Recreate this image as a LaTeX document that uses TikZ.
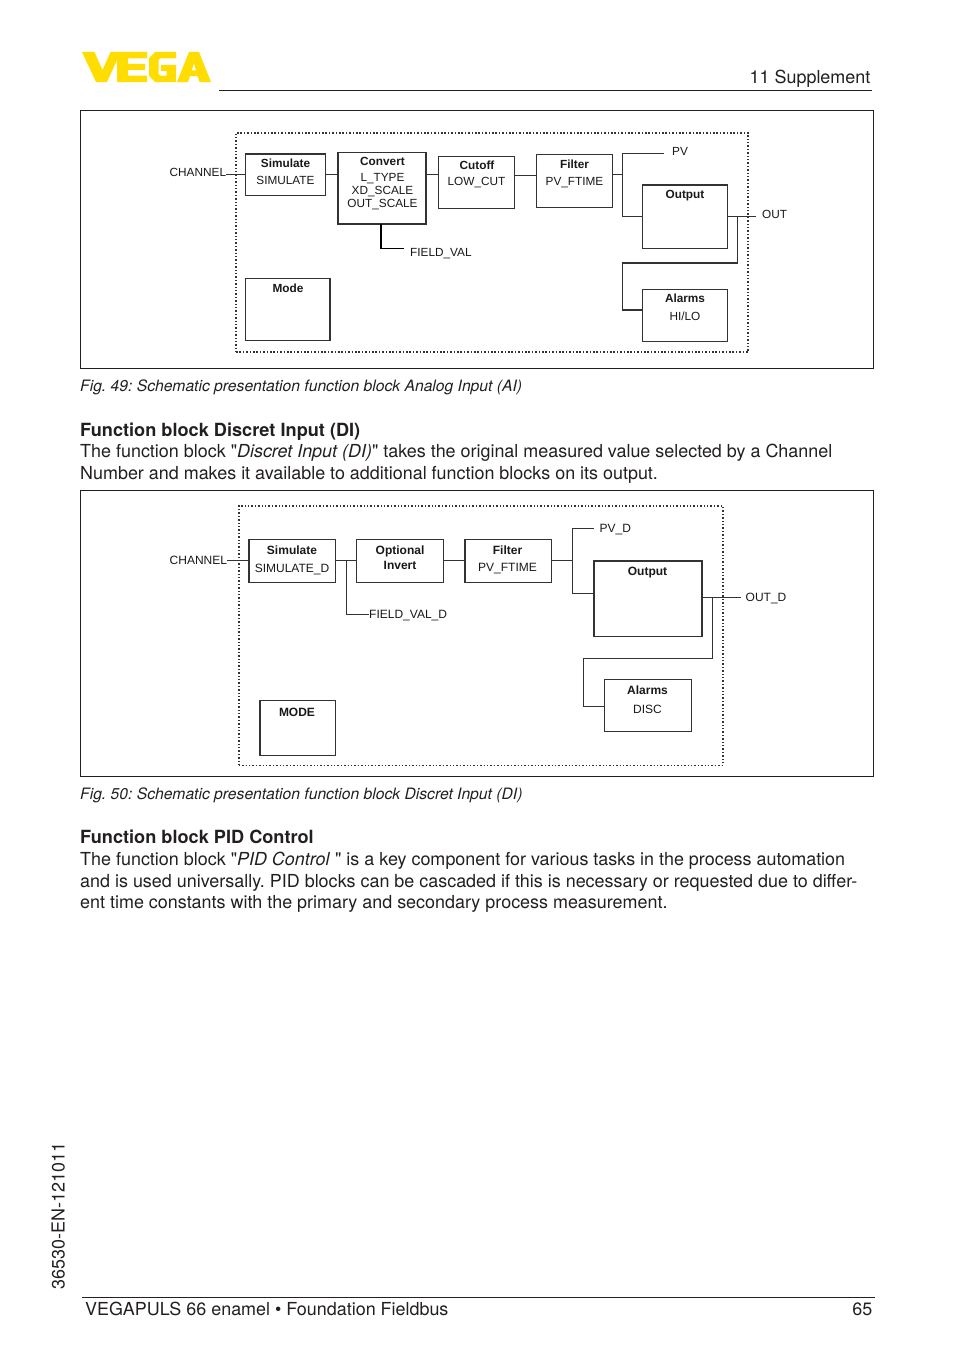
\documentclass[tikz,border=0pt]{standalone}
\usepackage{fontspec}
\setmainfont{TeX Gyre Heros}[Ligatures=TeXOff]
\newfontfamily\lab{Liberation Sans}
\definecolor{ink}{HTML}{231F20}
\definecolor{wire}{HTML}{333333}
\definecolor{vegay}{HTML}{FFDD00}
\frenchspacing
\def\lbfs{12}
\tikzset{
  pagetext/.style={anchor=base west,inner sep=0pt,text=ink,font=\fontsize{17.93}{22}\selectfont},
  pageright/.style={pagetext,anchor=base east},
  captext/.style={pagetext,font=\fontsize{15.67}{20}\selectfont\itshape},
  headtext/.style={pagetext,font=\fontsize{18.15}{22}\selectfont\bfseries},
  frm/.style={draw=ink,line width=1pt,inner sep=0pt,outer sep=0pt,anchor=north west},
  rulel/.style={draw=ink,line width=1pt},
  dots/.style={draw=black!80,line width=1.6pt,dash pattern=on 1.5pt off 1.9pt,inner sep=0pt,outer sep=0pt,anchor=north west},
  blk/.style={draw=wire,line width=1.2pt,inner sep=0pt,outer sep=0pt,anchor=north west},
  wr/.style={draw=wire,line width=1pt},
  thickwr/.style={draw=black,line width=1.5pt},
  lb/.style={inner sep=0pt,text=black!90,font=\lab\fontsize{\lbfs}{14}\selectfont},
  lbb/.style={lb,font=\lab\fontsize{\lbfs}{14}\selectfont\bfseries},
  lbw/.style={lb,anchor=base west},
}
\newcommand{\bx}[5]{\node[blk,minimum width=#4-#2,minimum height=#5-#3] (#1) at (#2,#3) {};}
\begin{document}
\begin{tikzpicture}[x=1pt,y=-1pt]
\useasboundingbox (0,0) rectangle (954,1354);
\fill[white] (0,0) rectangle (954,1354);
% logo
\fill[vegay] (82,52) -- (94.5,52) -- (102.5,70) -- (110.5,52) -- (147,52) -- (147,58.5) -- (128,58.5) -- (128,64) -- (145,64) -- (145,70) -- (128,70) -- (128,75.5) -- (147,75.5) -- (147,82) -- (117,82) -- (117,60) -- (107,82) -- (96,82) -- cycle;
\fill[vegay] (155,52) -- (176,52) -- (176,58.5) -- (160,58.5) -- (158.5,60) -- (158.5,74) -- (160,75.5) -- (166.5,75.5) -- (166.5,71) -- (161,71) -- (161,65) -- (176,65) -- (176,82) -- (155,82) -- (149,76) -- (149,58) -- cycle;
\fill[vegay,even odd rule] (177,82) -- (189,52) -- (199,52) -- (211,82) -- (199.5,82) -- (197.5,76) -- (190,76) -- (188,82) -- cycle (191.5,70.5) -- (196,70.5) -- (194,63.5) -- cycle;
% header
\node[pageright] (hdr) at (870.5,83.5) {11 Supplement};
\coordinate (hl) at (219,90.5); \coordinate (hr) at (872,90.5);
\draw[rulel] (hl) -- (hr);
% frames
\node[frm,minimum width=793,minimum height=258] (f1) at (80.5,110.5) {};
\node[frm,minimum width=793,minimum height=286] (f2) at (80.5,490.5) {};
% ---- Figure 49
\begin{scope}
\def\lbfs{11.8}
\node[dots,minimum width=512,minimum height=219.5] (d1) at (236,132.7) {};
\bx{asim}{245.5}{154}{325.7}{195.3}
\bx{acon}{338}{152.3}{426}{224}
\bx{acut}{438.7}{156.3}{514.7}{208.7}
\bx{afil}{536.3}{154.7}{612.7}{207.7}
\bx{aout}{642.7}{185}{727.3}{248.3}
\bx{aala}{642.7}{289.3}{727.3}{341.7}
\bx{amod}{245.5}{278.3}{330}{340.7}
\node[lbb] (a1) at (285.5,163) {Simulate};
\node[lb] (a2) at (285.5,180.5) {SIMULATE};
\node[lbb] (a3) at (382.5,161) {Convert};
\node[lb] (a4) at (382.5,178.5) {L\_TYPE};
\node[lb] (a5) at (382.5,191.5) {XD\_SCALE};
\node[lb] (a6) at (382.5,205) {OUT\_SCALE};
\node[lbb] (a7) at (477,165) {Cutoff};
\node[lb] (a8) at (476.5,183) {LOW\_CUT};
\node[lbb] (a9) at (574.5,164) {Filter};
\node[lb] (a10) at (574.5,182.5) {PV\_FTIME};
\node[lbb] (a11) at (685,195.5) {Output};
\node[lbb] (a12) at (685,298.5) {Alarms};
\node[lb] (a13) at (685,316) {HI/LO};
\node[lbb] (a14) at (288,288) {Mode};
\node[lbw] (achan) at (169.5,176.5) {CHANNEL};
\node[lbw] (apv) at (672,155.5) {PV};
\node[lbw] (aoutl) at (762,218) {OUT};
\node[lbw] (afv) at (410,256) {FIELD\_VAL};
\end{scope}
\coordinate (aj1) at (622.3,174.5);
\coordinate (aj2) at (737.3,216);
\coordinate (apve) at (664.3,153.7);
\coordinate (aoe) at (755.7,216);
\coordinate (afvc) at (404,248.7);
\draw[wr] (achan.east |- 0,174.3) -- (asim.west |- 0,174.3);
\draw[wr] (asim.east |- 0,174.3) -- (acon.west |- 0,174.3);
\draw[wr] (acon.east |- 0,174.7) -- (acut.west |- 0,174.7);
\draw[wr] (acut.east |- 0,175) -- (afil.west |- 0,175);
\draw[wr] (afil.east |- aj1) -- (aj1);
\draw[wr] (apve) -- (aj1 |- apve) -- (aj1 |- 0,216.3) -- (aout.west |- 0,216.3);
\draw[wr] (aout.east |- aoe) -- (aoe);
\draw[wr,line width=1.3pt] (aj2) -- (aj2 |- 0,263) -- (aj1 |- 0,263) -- (aj1 |- 0,310) -- (aala.west |- 0,310);
\draw[thickwr] (381,224) -- (381,248.7) -- (afvc);
% ---- Figure 50
\node[dots,minimum width=484.3,minimum height=259.3] (d2) at (238.7,506) {};
\bx{dsim}{249}{539.3}{335.7}{582.3}
\bx{dopt}{356.7}{539.3}{443.7}{582.3}
\bx{dfil}{465}{539.3}{551.3}{582.3}
\bx{dout}{594}{561}{702}{636.3}
\bx{dala}{604.7}{679.3}{691.3}{731.7}
\bx{dmod}{260}{700.7}{335.7}{755.3}
\node[lbb] (b1) at (292,550.5) {Simulate};
\node[lb] (b2) at (292,569) {SIMULATE\_D};
\node[lbb] (b3) at (400,551) {Optional};
\node[lbb] (b4) at (400,565) {Invert};
\node[lbb] (b5) at (507.5,550.5) {Filter};
\node[lb] (b6) at (507.5,569) {PV\_FTIME};
\node[lbb] (b7) at (647.5,572.5) {Output};
\node[lbb] (b8) at (647.5,690.5) {Alarms};
\node[lb] (b9) at (647.5,709) {DISC};
\node[lbb] (b10) at (297,712) {MODE};
\node[lbw] (dchan) at (169.5,564) {CHANNEL};
\node[lbw] (dpv) at (599.5,532) {PV\_D};
\node[lbw] (doutl) at (745.5,601.5) {OUT\_D};
\node[lbw] (dfv) at (369,618.5) {FIELD\_VAL\_D};
\coordinate (dj0) at (346.3,560.7);
\coordinate (dj1) at (572.3,560.7);
\coordinate (dj2) at (712.3,597.7);
\coordinate (dpve) at (594,528.3);
\coordinate (doe) at (741,597.7);
\draw[wr] (dchan.east |- dj0) -- (dsim.west |- dj0);
\draw[wr] (dsim.east |- dj0) -- (dopt.west |- dj0);
\draw[wr] (dopt.east |- dj0) -- (dfil.west |- dj0);
\draw[wr] (dj0) -- (dj0 |- 0,614.3) -- (dfv.west |- 0,614.3);
\draw[wr] (dfil.east |- dj1) -- (dj1);
\draw[wr] (dpve) -- (dj1 |- dpve) -- (dj1 |- 0,593.3) -- (dout.west |- 0,593.3);
\draw[wr] (dout.east |- doe) -- (doe);
\draw[wr] (dj2) -- (dj2 |- 0,658) -- (583,658) -- (583,706) -- (dala.west |- 0,706);
% page text
\node[captext] (c1) at (80,391) {Fig. 49: Schematic presentation function block Analog Input (AI)};
\node[headtext] (h1) at (80,436) {Function block Discret Input (DI)};
\node[pagetext] (t1) at (80,457.5) {The function block "\textit{Discret Input (DI)}" takes the original measured value selected by a Channel};
\node[pagetext] (t2) at (80,479.5) {Number and makes it available to additional function blocks on its output.};
\node[captext] (c2) at (80,799) {Fig. 50: Schematic presentation function block Discret Input (DI)};
\node[headtext] (h2) at (80,843.5) {Function block PID Control};
\node[pagetext] (t3) at (80,865) {The function block "\textit{PID Control} " is a key component for various tasks in the process automation};
\node[pagetext] (t4) at (80,887) {and is used universally. PID blocks can be cascaded if this is necessary or requested due to differ-};
\node[pagetext] (t5) at (80,908.5) {ent time constants with the primary and secondary process measurement.};
% footer
\node[pagetext,rotate=90] (side) at (64.5,1289.5) {36530-EN-121011};
\coordinate (fl) at (82,1297); \coordinate (fr) at (875,1297);
\draw[rulel] (fl) -- (fr);
\node[pagetext] (ft) at (85,1315.5) {VEGAPULS 66 enamel • Foundation Fieldbus};
\node[pageright] (pg) at (872.5,1315.5) {65};
\end{tikzpicture}
\end{document}
